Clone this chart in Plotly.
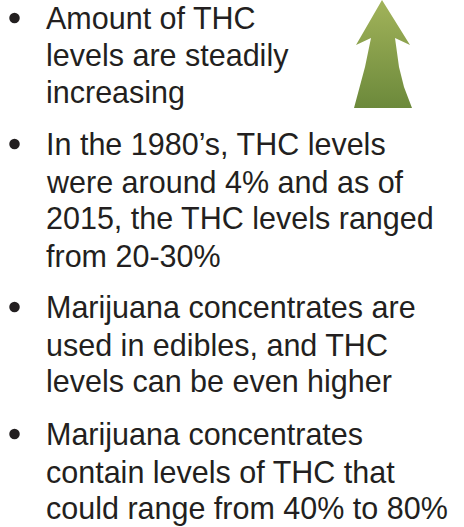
import plotly.graph_objects as go

# ---- content ----
bullet_lines = [
    ["Amount of THC", "levels are steadily", "increasing"],
    ["In the 1980\u2019s, THC levels", "were around 4% and as of",
     "2015, the THC levels ranged", "from 20-30%"],
    ["Marijuana concentrates are", "used in edibles, and THC",
     "levels can be even higher"],
    ["Marijuana concentrates", "contain levels of THC that",
     "could range from 40% to 80%"],
]
# baseline of first line of each bullet (px from top)
bullet_first_baseline = [29, 155, 318, 445]

# arrow outline (px)
arrow_x = [382, 410, 395, 399, 404, 412, 354, 360, 365, 371, 356, 382]
arrow_y = [0, 45, 38, 67, 87, 108, 108, 87, 67, 38, 45, 0]

W, H = 464, 527
FONT = "Liberation Sans, Arial, Helvetica, sans-serif"
FS = 30.5
LINE = 37.2
TEXT_COLOR = "#231f20"
TEXT_X = 45

fig = go.Figure()

fig.add_trace(go.Scatter(
    x=arrow_x, y=arrow_y, mode="lines", fill="toself",
    line=dict(width=0, color="rgba(0,0,0,0)"),
    fillgradient=dict(type="vertical",
                      colorscale=[[0, "#6c893b"], [1, "#a2b35a"]]),
    hoverinfo="skip", showlegend=False,
))

bx, by = [], []
annotations = []
for lines, b0 in zip(bullet_lines, bullet_first_baseline):
    bx.append(14.5)
    by.append(b0 - 11)
    for i, t in enumerate(lines):
        base = b0 + i * LINE
        annotations.append(dict(
            x=TEXT_X, y=base - 0.3465 * FS, xref="x", yref="y",
            text=t, showarrow=False, xanchor="left", yanchor="middle",
            font=dict(family=FONT, size=FS, color=TEXT_COLOR),
            borderpad=0,
        ))

fig.add_trace(go.Scatter(
    x=bx, y=by, mode="markers",
    marker=dict(size=10.5, color=TEXT_COLOR, line=dict(width=0)),
    hoverinfo="skip", showlegend=False,
))

fig.update_layout(
    width=W, height=H,
    margin=dict(l=0, r=0, t=0, b=0),
    paper_bgcolor="white", plot_bgcolor="white",
    xaxis=dict(range=[0, W], visible=False, fixedrange=True),
    yaxis=dict(range=[H, 0], visible=False, fixedrange=True),
    annotations=annotations,
    showlegend=False,
)

fig.write_html(
    "out.html",
    config={"displayModeBar": False},
    post_script="document.body.style.margin='0';document.body.style.overflow='hidden';",
)
